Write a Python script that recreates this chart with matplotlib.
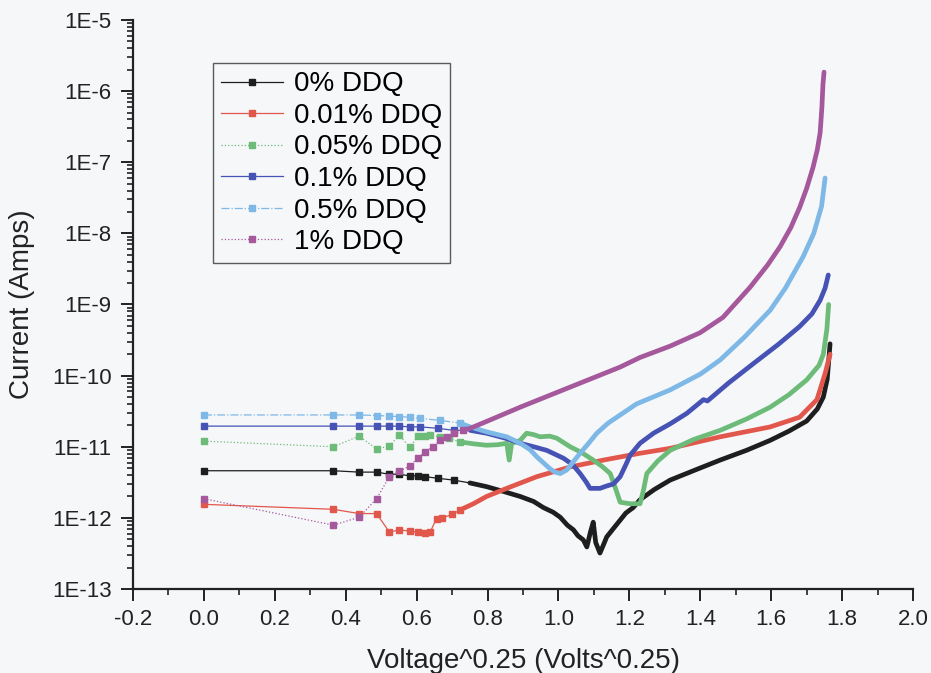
import numpy as np
import matplotlib
matplotlib.use("Agg")
import matplotlib.pyplot as plt
from matplotlib.ticker import LogLocator, FuncFormatter, MultipleLocator

plt.rcParams['font.family'] = ['Liberation Sans', 'DejaVu Sans']

labels = ["0% DDQ", "0.01% DDQ", "0.05% DDQ", "0.1% DDQ", "0.5% DDQ", "1% DDQ"]

x_0 = [0.0, 0.365, 0.4375, 0.487, 0.523, 0.551, 0.581, 0.603, 0.624, 0.66, 0.704, 0.75,
       0.797, 0.845, 0.892, 0.93, 0.957, 0.985, 1.005, 1.025, 1.042, 1.055, 1.07, 1.08,
       1.09, 1.098, 1.105, 1.117, 1.127, 1.136, 1.155, 1.174, 1.19, 1.211, 1.23, 1.27,
       1.315, 1.385, 1.456, 1.53, 1.597, 1.65, 1.70, 1.73, 1.747, 1.758, 1.766]
y_0 = [4.6e-12, 4.6e-12, 4.4e-12, 4.4e-12, 4.1e-12, 4.1e-12, 3.9e-12, 3.9e-12, 3.8e-12,
       3.6e-12, 3.4e-12, 3.1e-12, 2.75e-12, 2.35e-12, 2.0e-12, 1.7e-12, 1.4e-12, 1.2e-12,
       1.02e-12, 7.9e-13, 6.8e-13, 5.6e-13, 4.9e-13, 3.9e-13, 6.3e-13, 8.7e-13, 4.5e-13,
       3.2e-13, 4.2e-13, 5.4e-13, 7.1e-13, 9.3e-13, 1.17e-12, 1.4e-12, 1.8e-12, 2.5e-12,
       3.4e-12, 4.7e-12, 6.5e-12, 8.9e-12, 1.23e-11, 1.66e-11, 2.3e-11, 3.4e-11, 5.0e-11,
       8.9e-11, 2.8e-10]

x_001 = [0.0, 0.365, 0.4375, 0.487, 0.523, 0.551, 0.581, 0.603, 0.624, 0.638, 0.656,
         0.672, 0.70, 0.722, 0.76, 0.797, 0.854, 0.939, 1.033, 1.127, 1.23, 1.315, 1.456,
         1.597, 1.68, 1.729, 1.752, 1.766]
y_001 = [1.55e-12, 1.32e-12, 1.15e-12, 1.15e-12, 6.3e-13, 6.8e-13, 6.5e-13, 6.3e-13,
         6.2e-13, 6.3e-13, 9.8e-13, 1.0e-12, 1.12e-12, 1.29e-12, 1.58e-12, 2.0e-12,
         2.6e-12, 3.8e-12, 5.2e-12, 6.5e-12, 8.1e-12, 9.5e-12, 1.38e-11, 1.9e-11, 2.6e-11,
         4.6e-11, 1.07e-10, 2.0e-10]

x_005 = [0.0, 0.365, 0.4375, 0.487, 0.523, 0.551, 0.581, 0.603, 0.624, 0.638, 0.666, 0.69,
         0.722, 0.76, 0.797, 0.83, 0.854, 0.861, 0.868, 0.892, 0.91, 0.93, 0.948, 0.975,
         0.995, 1.033, 1.065, 1.098, 1.125, 1.146, 1.162, 1.174, 1.202, 1.23, 1.24, 1.249,
         1.28, 1.315, 1.38, 1.456, 1.53, 1.597, 1.65, 1.70, 1.735, 1.747, 1.757, 1.762]
y_005 = [1.2e-11, 1.0e-11, 1.41e-11, 9.3e-12, 1.02e-11, 1.45e-11, 9.8e-12, 1.41e-11,
         1.41e-11, 1.45e-11, 1.38e-11, 1.32e-11, 1.17e-11, 1.1e-11, 1.05e-11, 1.07e-11,
         1.12e-11, 6.5e-12, 1.12e-11, 1.23e-11, 1.55e-11, 1.48e-11, 1.38e-11, 1.41e-11,
         1.32e-11, 1.0e-11, 8.3e-12, 6.5e-12, 5.2e-12, 4.2e-12, 2.5e-12, 1.66e-12, 1.58e-12,
         1.58e-12, 2.5e-12, 4.2e-12, 6.3e-12, 8.9e-12, 1.26e-11, 1.7e-11, 2.45e-11, 3.6e-11,
         5.4e-11, 8.7e-11, 1.4e-10, 2.0e-10, 4.5e-10, 1.0e-9]

x_01 = [0.0, 0.365, 0.4375, 0.487, 0.523, 0.551, 0.581, 0.61, 0.66, 0.704, 0.751, 0.797,
        0.85, 0.892, 0.93, 0.967, 1.014, 1.04, 1.061, 1.078, 1.089, 1.117, 1.135, 1.155,
        1.174, 1.19, 1.202, 1.23, 1.268, 1.315, 1.362, 1.409, 1.42, 1.48, 1.55, 1.62, 1.68,
        1.715, 1.738, 1.752, 1.761]
y_01 = [1.95e-11, 1.95e-11, 1.95e-11, 1.95e-11, 1.95e-11, 1.95e-11, 1.9e-11, 1.9e-11,
        1.82e-11, 1.7e-11, 1.7e-11, 1.55e-11, 1.32e-11, 1.12e-11, 1.0e-11, 8.9e-12, 6.9e-12,
        5.6e-12, 4.2e-12, 3.2e-12, 2.6e-12, 2.6e-12, 2.8e-12, 3.0e-12, 3.8e-12, 5.6e-12,
        7.6e-12, 1.12e-11, 1.55e-11, 2.1e-11, 2.95e-11, 4.6e-11, 4.4e-11, 7.9e-11, 1.48e-10,
        2.75e-10, 4.9e-10, 7.4e-10, 1.15e-9, 1.7e-9, 2.6e-9]

x_05 = [0.0, 0.365, 0.4375, 0.487, 0.523, 0.551, 0.581, 0.61, 0.666, 0.722, 0.751, 0.797,
        0.854, 0.892, 0.92, 0.939, 0.96, 0.976, 0.99, 1.005, 1.023, 1.04, 1.061, 1.085,
        1.108, 1.14, 1.174, 1.22, 1.315, 1.4, 1.456, 1.525, 1.597, 1.64, 1.69, 1.72, 1.742,
        1.752]
y_05 = [2.8e-11, 2.8e-11, 2.8e-11, 2.75e-11, 2.7e-11, 2.65e-11, 2.6e-11, 2.5e-11,
        2.35e-11, 2.15e-11, 1.9e-11, 1.62e-11, 1.38e-11, 1.12e-11, 9.1e-12, 7.2e-12,
        5.8e-12, 4.9e-12, 4.4e-12, 4.2e-12, 4.7e-12, 6.0e-12, 8.1e-12, 1.12e-11, 1.55e-11,
        2.15e-11, 2.8e-11, 4.0e-11, 6.3e-11, 1.05e-10, 1.66e-10, 3.5e-10, 8.3e-10, 1.7e-9,
        4.7e-9, 1.0e-8, 2.4e-8, 6.0e-8]

x_1 = [0.0, 0.365, 0.4375, 0.487, 0.523, 0.551, 0.581, 0.603, 0.624, 0.645, 0.666, 0.685,
       0.704, 0.73, 0.751, 0.8, 0.892, 1.033, 1.174, 1.23, 1.315, 1.399, 1.464, 1.54, 1.59,
       1.625, 1.655, 1.68, 1.70, 1.718, 1.73, 1.738, 1.743, 1.746, 1.749]
y_1 = [1.86e-12, 7.9e-13, 1.02e-12, 1.86e-12, 3.8e-12, 4.5e-12, 5.4e-12, 6.9e-12, 8.5e-12,
       1.0e-11, 1.23e-11, 1.38e-11, 1.55e-11, 1.7e-11, 1.82e-11, 2.3e-11, 3.6e-11, 6.9e-11,
       1.32e-10, 1.8e-10, 2.6e-10, 4.0e-10, 6.6e-10, 1.74e-9, 3.6e-9, 6.5e-9, 1.2e-8,
       2.3e-8, 4.3e-8, 8.5e-8, 1.5e-7, 2.6e-7, 6.0e-7, 1.26e-6, 1.85e-6]

series_x = [x_0, x_001, x_005, x_01, x_05, x_1]
series_y = [y_0, y_001, y_005, y_01, y_05, y_1]
colors = ["#1e1e1e", "#e2574c", "#6dbb78", "#4653b4", "#7db8e6", "#a5589c"]
styles = ["-", "-", ":", "-", "-.", ":"]

bg = "#f6f7f9"
fig = plt.figure(figsize=(9.31, 6.73), dpi=100, facecolor=bg)
ax = fig.add_axes([0.1429, 0.1248, 0.8378, 0.8455], facecolor=bg)

for xs, ys, c, ls, lab in zip(series_x, series_y, colors, styles, labels):
    xs = np.asarray(xs)
    ys = np.asarray(ys)
    sparse = xs < 0.74
    ax.plot(xs, ys, color=c, ls=ls, lw=0.9, marker='s', ms=3.8, mec=c, mfc=c,
            markevery=list(np.nonzero(sparse)[0]), label=lab)
    dense = xs >= 0.72
    ax.plot(xs[dense], ys[dense], color=c, lw=3.4, solid_capstyle='round',
            solid_joinstyle='round')

ax.set_yscale('log')
ax.set_xlim(-0.2, 2.0)
ax.set_ylim(1e-13, 1e-5)

ax.xaxis.set_major_locator(MultipleLocator(0.2))
ax.xaxis.set_minor_locator(MultipleLocator(0.1))
ax.xaxis.set_major_formatter(FuncFormatter(lambda v, p: f"{v:.1f}"))
ax.yaxis.set_major_locator(LogLocator(base=10, numticks=20))
ax.yaxis.set_minor_locator(LogLocator(base=10, subs=np.arange(2, 10), numticks=20))
ax.yaxis.set_major_formatter(FuncFormatter(lambda v, p: f"1E{int(round(np.log10(v)))}"))

for s in ['top', 'right']:
    ax.spines[s].set_visible(False)
for s in ['left', 'bottom']:
    ax.spines[s].set_linewidth(1.6)
    ax.spines[s].set_color('#222222')

ax.tick_params(which='major', direction='out', length=8.5, width=1.4, labelsize=16,
               colors='#222222')
ax.tick_params(which='minor', direction='out', length=4.5, width=1.2, colors='#222222')
ax.tick_params(axis='y', which='major', pad=7)
ax.tick_params(axis='x', which='major', pad=6)

ax.set_xlabel("Voltage^0.25 (Volts^0.25)", fontsize=20, color='#222222', labelpad=13)
ax.set_ylabel("Current (Amps)", fontsize=20, color='#222222', labelpad=12)

leg = ax.legend(loc='upper left', bbox_to_anchor=(0.1026, 0.9244), borderaxespad=0,
                fontsize=20, numpoints=1, handlelength=2.2, handletextpad=0.4,
                labelspacing=0.2, fancybox=False, frameon=True, borderpad=0.3)
leg.get_frame().set_edgecolor('#333333')
leg.get_frame().set_linewidth(1.0)
leg.get_frame().set_facecolor(bg)

fig.savefig("out.png", dpi=100, facecolor=bg)
